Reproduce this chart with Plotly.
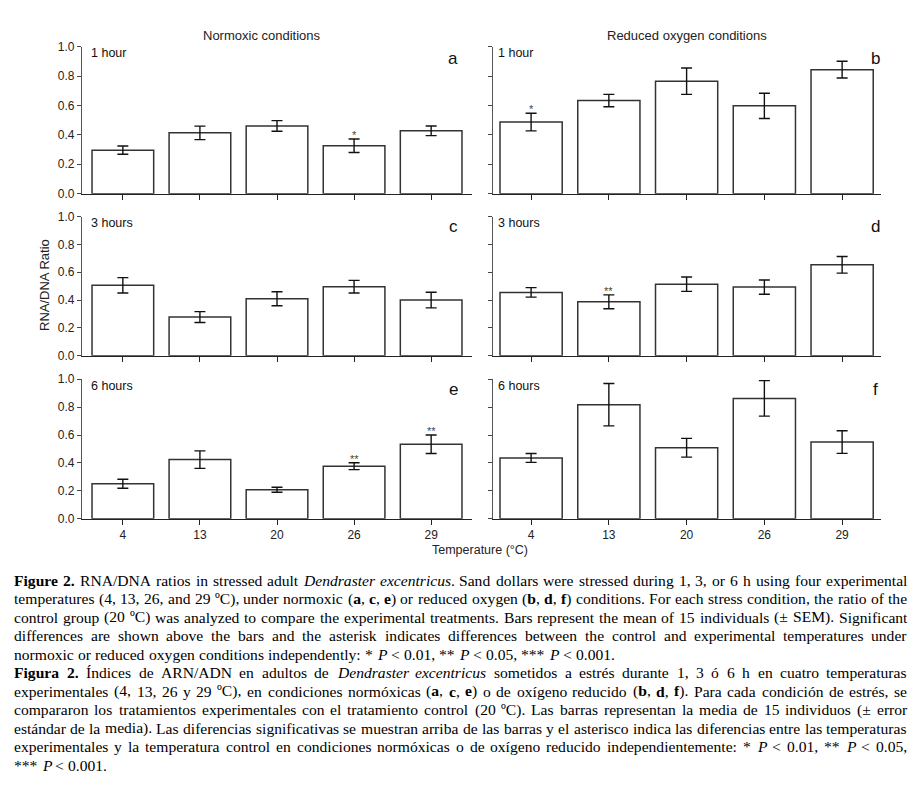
import re
import plotly.graph_objects as go

W, H = 914, 789

temps = ["4", "13", "20", "26", "29"]

# RNA/DNA ratio means and SEM per panel
norm_1h = [0.296, 0.414, 0.461, 0.326, 0.428]
norm_1h_err = [0.028, 0.046, 0.036, 0.046, 0.033]
red_1h = [0.487, 0.634, 0.766, 0.598, 0.844]
red_1h_err = [0.060, 0.042, 0.090, 0.086, 0.057]
norm_3h = [0.506, 0.278, 0.409, 0.496, 0.400]
norm_3h_err = [0.055, 0.039, 0.050, 0.045, 0.056]
red_3h = [0.455, 0.387, 0.514, 0.493, 0.653]
red_3h_err = [0.034, 0.050, 0.052, 0.051, 0.060]
norm_6h = [0.251, 0.424, 0.208, 0.377, 0.534]
norm_6h_err = [0.032, 0.063, 0.018, 0.025, 0.066]
red_6h = [0.436, 0.818, 0.509, 0.863, 0.550]
red_6h_err = [0.032, 0.152, 0.067, 0.127, 0.081]

# significance marks per panel
sig_a = ["", "", "", "*", ""]
sig_b = ["*", "", "", "", ""]
sig_c = ["", "", "", "", ""]
sig_d = ["", "**", "", "", ""]
sig_e = ["", "", "", "**", "**"]
sig_f = ["", "", "", "", ""]

panel_letters = ["a", "b", "c", "d", "e", "f"]
hour_labels = ["1 hour", "1 hour", "3 hours", "3 hours", "6 hours", "6 hours"]
col_titles = ["Normoxic conditions", "Reduced oxygen conditions"]
y_title = "RNA/DNA Ratio"
x_title = "Temperature (°C)"
y_ticks = [0.0, 0.2, 0.4, 0.6, 0.8, 1.0]

caption_lines = [
    "<b>Figure</b> <b>2.</b> RNA/DNA ratios in stressed adult <i>Dendraster</i> <i>excentricus</i>. Sand dollars were stressed during 1, 3, or 6 h using four experimental",
    "temperatures (4, 13, 26, and 29 ºC), under normoxic (<b>a</b>, <b>c</b>, <b>e</b>) or reduced oxygen (<b>b</b>, <b>d</b>, <b>f</b>) conditions. For each stress condition, the ratio of the",
    "control group (20 ºC) was analyzed to compare the experimental treatments. Bars represent the mean of 15 individuals (± SEM). Significant",
    "differences are shown above the bars and the asterisk indicates differences between the control and experimental temperatures under",
    "normoxic or reduced oxygen conditions independently: * <i>P</i> < 0.01, ** <i>P</i> < 0.05, *** <i>P</i> < 0.001.",
    "<b>Figura</b> <b>2.</b> Índices de ARN/ADN en adultos de <i>Dendraster</i> <i>excentricus</i> sometidos a estrés durante 1, 3 ó 6 h en cuatro temperaturas",
    "experimentales (4, 13, 26 y 29 ºC), en condiciones normóxicas (<b>a</b>, <b>c</b>, <b>e</b>) o de oxígeno reducido (<b>b</b>, <b>d</b>, <b>f</b>). Para cada condición de estrés, se",
    "compararon los tratamientos experimentales con el tratamiento control (20 ºC). Las barras representan la media de 15 individuos (± error",
    "estándar de la media). Las diferencias significativas se muestran arriba de las barras y el asterisco indica las diferencias entre las temperaturas",
    "experimentales y la temperatura control en condiciones normóxicas o de oxígeno reducido independientemente: * <i>P</i> < 0.01, ** <i>P</i> < 0.05,",
    "*** <i>P</i> < 0.001.",
]
justified = [True, True, True, True, False, True, True, True, True, True, False]

data = [
    (norm_1h, norm_1h_err, sig_a), (red_1h, red_1h_err, sig_b),
    (norm_3h, norm_3h_err, sig_c), (red_3h, red_3h_err, sig_d),
    (norm_6h, norm_6h_err, sig_e), (red_6h, red_6h_err, sig_f),
]

# ---------- layout geometry (pixels) ----------
cols = [(82, 472, [-0.53, 4.53]), (493, 881, [-0.49, 4.5])]
rows = [(40.5, 190), (213.3, 355), (379, 521)]


def px(x):
    return x / W


def py(y):
    return 1 - y / H


fig = go.Figure()
axis_font = dict(family="Liberation Sans, Arial", size=12, color="#222")
annotations = []

for i, (vals, errs, sig) in enumerate(data):
    r, c = divmod(i, 2)
    x0, x1, xr = cols[c]
    ytop, ybot = rows[r]
    n = i + 1
    xa = "x" if n == 1 else f"x{n}"
    ya = "y" if n == 1 else f"y{n}"
    fig.add_trace(go.Bar(
        x=temps, y=vals, width=0.8, xaxis=xa, yaxis=ya,
        marker=dict(color="white", line=dict(color="#333", width=1.5)),
        error_y=dict(type="data", array=errs, color="#111", thickness=1.4, width=5.5),
        showlegend=False, hoverinfo="skip",
    ))
    fig.layout[f"xaxis{'' if n == 1 else n}"] = dict(
        domain=[px(x0), px(x1)], anchor=ya, type="category", range=xr,
        showline=True, linecolor="#222", linewidth=1.3, ticks="outside",
        ticklen=5, tickcolor="#222", tickwidth=1.2, showgrid=False, zeroline=False,
        showticklabels=(r == 2), tickfont=axis_font, fixedrange=True,
    )
    fig.layout[f"yaxis{'' if n == 1 else n}"] = dict(
        domain=[py(ybot), py(ytop)], anchor=xa, range=[0, 1],
        tickvals=y_ticks, tickformat=".1f", showline=True, linecolor="#555",
        linewidth=1.3, ticks="outside", ticklen=4, tickcolor="#444", tickwidth=1.2,
        showgrid=False, zeroline=False, showticklabels=(c == 0),
        tickfont=axis_font, fixedrange=True,
    )
    for idx, (v, e, s) in enumerate(zip(vals, errs, sig)):
        if s:
            annotations.append(dict(
                x=idx, y=v + e, xref=xa, yref=ya, text=s, showarrow=False,
                yanchor="bottom", yshift=-4,
                font=dict(family="Liberation Sans, Arial", size=11, color="#444"),
            ))
    # panel letter and duration label
    annotations.append(dict(
        x=px(x1 - 19 if c == 0 else x1 - 6), y=py((ytop + 11.5) if r == 0 else (ytop + 10)),
        xref="paper", yref="paper", text=panel_letters[i], showarrow=False,
        xanchor="center", yanchor="middle",
        font=dict(family="Liberation Sans, Arial", size=17, color="#111"),
    ))
    annotations.append(dict(
        x=px(x0 + (9 if c == 0 else 5)), y=py(ytop + 6.5),
        xref="paper", yref="paper", text=hour_labels[i], showarrow=False,
        xanchor="left", yanchor="middle", borderpad=0, borderwidth=0,
        font=dict(family="Liberation Sans, Arial", size=12.5, color="#111"),
    ))

# column titles and axis titles
for c, t in enumerate(col_titles):
    annotations.append(dict(
        x=px([262, 687][c]), y=py(29), xref="paper", yref="paper", text=t,
        showarrow=False, xanchor="center", yanchor="middle",
        font=dict(family="Liberation Sans, Arial", size=13, color="#222"),
    ))
annotations.append(dict(
    x=px(45), y=py(283), xref="paper", yref="paper", text=y_title, textangle=-90,
    showarrow=False, xanchor="center", yanchor="middle",
    font=dict(family="Liberation Sans, Arial", size=13, color="#222"),
))
annotations.append(dict(
    x=px(480), y=py(553), xref="paper", yref="paper", text=x_title,
    showarrow=False, xanchor="center", yanchor="middle",
    font=dict(family="Liberation Sans, Arial", size=12.5, color="#222"),
))

# ---------- caption: justified serif text, word by word ----------
REG = {" ": 250, "(": 333, ")": 333, "*": 500, ",": 250, "-": 333, ".": 250, "/": 278,
       ":": 278, ";": 278, "<": 564, "±": 564, "º": 310, "°": 400,
       "A": 722, "B": 667, "C": 667, "D": 722, "E": 611, "F": 556, "G": 722, "H": 722,
       "I": 333, "Í": 333, "J": 389, "K": 722, "L": 611, "M": 889, "N": 722, "O": 722,
       "P": 556, "Q": 722, "R": 667, "S": 556, "T": 611, "U": 722, "V": 722, "W": 944,
       "X": 722, "Y": 722, "Z": 611,
       "a": 444, "á": 444, "b": 500, "c": 444, "d": 500, "e": 444, "é": 444, "f": 333,
       "g": 500, "h": 500, "i": 278, "í": 278, "j": 278, "k": 500, "l": 278, "m": 778,
       "n": 500, "o": 500, "ó": 500, "p": 500, "q": 500, "r": 333, "s": 389, "t": 278,
       "u": 500, "v": 500, "w": 722, "x": 500, "y": 500, "z": 444}
BOLD = {"F": 611, "i": 278, "g": 500, "u": 556, "r": 444, "e": 444, "a": 500, "b": 556,
        "c": 444, "d": 556, "f": 333, "2": 500, ".": 250}
ITAL = {"D": 722, "e": 444, "n": 500, "d": 500, "r": 389, "a": 500, "s": 389, "t": 278,
        "x": 444, "c": 444, "i": 278, "u": 500, "P": 611}


def char_w(style, ch):
    table = {"b": BOLD, "i": ITAL}.get(style, {})
    if ch in table:
        return table[ch]
    if ch.isdigit():
        return 500
    return REG.get(ch, 500)


def word_em(word):
    style, w = "r", 0
    for part in re.split(r"(</?[bi]>)", word):
        if part in ("<b>", "<i>"):
            style = part[1]
        elif part in ("</b>", "</i>"):
            style = "r"
        else:
            w += sum(char_w(style, ch) for ch in part)
    return w / 1000.0


cap_left, cap_right = 14, 907
cap_width = cap_right - cap_left
line_y0, line_step = 583.5, 18.85

line_words = [ln.split(" ") for ln in caption_lines]
line_ems = [[word_em(w) for w in ws] for ws in line_words]
fs = 15.6
for ws, ems, j in zip(line_words, line_ems, justified):
    if j:
        fs = min(fs, cap_width / (sum(ems) + 0.16 * (len(ws) - 1)))

for k, (ws, ems, j) in enumerate(zip(line_words, line_ems, justified)):
    if j:
        gap = (cap_width - fs * sum(ems)) / (len(ws) - 1)
    else:
        gap = 0.27 * fs
    xpos = cap_left
    for w, e in zip(ws, ems):
        txt = w.replace("<", "&lt;") if w == "<" else w
        annotations.append(dict(
            x=px(xpos), y=py(line_y0 + k * line_step), xref="paper", yref="paper",
            text=txt, showarrow=False, xanchor="left", yanchor="middle",
            borderpad=0, borderwidth=0,
            font=dict(family="Liberation Serif, Times New Roman", size=fs, color="#000"),
        ))
        xpos += fs * e + gap

fig.update_layout(
    width=W, height=H, autosize=False,
    margin=dict(l=0, r=0, t=0, b=0),
    paper_bgcolor="white", plot_bgcolor="white",
    annotations=annotations, bargap=0.2,
)

fig.write_html(
    "out.html",
    config={"displayModeBar": False},
    post_script="document.body.style.margin='0';document.body.style.overflow='hidden';",
)
